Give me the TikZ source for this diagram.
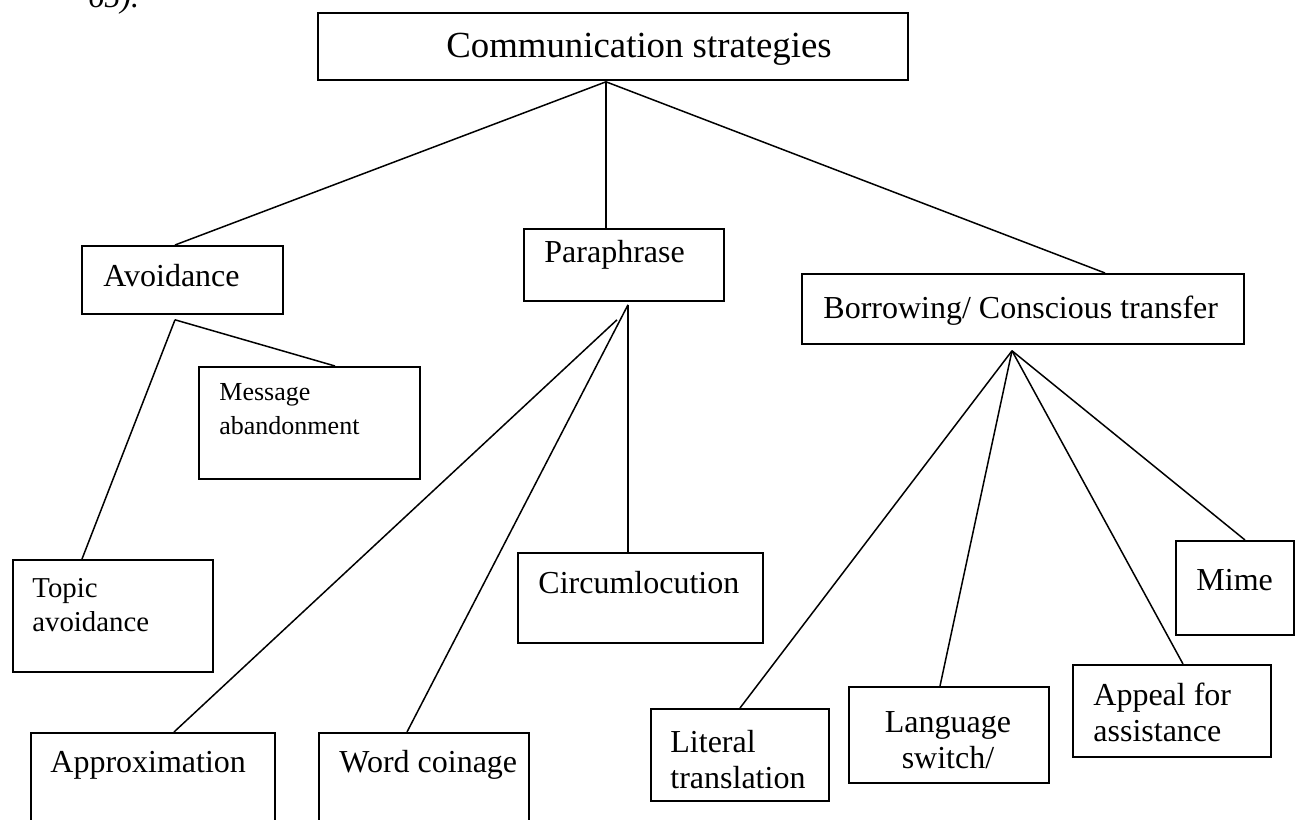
\documentclass[tikz,border=0pt]{standalone}
\usepackage{fontspec}
\setmainfont{Liberation Serif}
\usetikzlibrary{calc}
\newcommand\mkbox[5]{\node[box, minimum width=#4*0.5pt, minimum height=#5*0.5pt] (#1) at (#2,#3) {};}
\begin{document}
\begin{tikzpicture}[x=0.5pt,y=-0.5pt,
  box/.style={draw, line width=0.9pt, inner sep=0pt, anchor=north west},
  conn/.style={line width=0.75pt},
  lbl/.style={inner sep=0pt, anchor=base west, align=left},
  big/.style={font=\fontsize{18.4pt}{21pt}\selectfont},
  mid/.style={font=\fontsize{16pt}{18pt}\selectfont},
  sml/.style={font=\fontsize{14.4pt}{17pt}\selectfont},
  xsml/.style={font=\fontsize{13pt}{17pt}\selectfont},
]
\useasboundingbox (0,0) rectangle (1295,819);
\clip (0,0) rectangle (1295,819);
\fill[white] (0,0) rectangle (1295,819);

% fragment of preceding text
\node[lbl, font=\itshape\fontsize{16pt}{18pt}\selectfont] (frag) at (88,7) {65).};

% boxes
\mkbox{T}{317}{12}{590}{67}
\mkbox{A}{81}{245}{201}{68}
\mkbox{P}{523}{228}{200}{72}
\mkbox{B}{801}{273}{442}{70}
\mkbox{M}{198}{366}{221}{112}
\mkbox{TA}{12}{559}{200}{112}
\mkbox{AP}{30}{732}{244}{112}
\mkbox{W}{318}{732}{210}{112}
\mkbox{C}{517}{552}{245}{90}
\mkbox{L}{650}{708}{178}{92}
\mkbox{LS}{848}{686}{200}{96}
\mkbox{AF}{1072}{664}{198}{92}
\mkbox{MI}{1175}{540}{118}{94}

% texts (multi-line nodes: base = last line)
\node[inner sep=0pt, anchor=base, big] (Tt) at (639,57) {Communication strategies};
\node[lbl, mid] (At) at (103,286) {Avoidance};
\node[lbl, mid] (Pt) at (544,262) {Paraphrase};
\node[lbl, mid] (Bt) at (823,318) {Borrowing/ Conscious transfer};
\node[lbl, xsml] (Mt) at (219,434) {Message\\abandonment};
\node[lbl, sml] (TAt) at (32,631) {Topic\\avoidance};
\node[lbl, mid] (APt) at (50,772) {Approximation};
\node[lbl, mid] (Wt) at (339,772) {Word coinage};
\node[lbl, mid] (Ct) at (538,593) {Circumlocution};
\node[lbl, mid] (Lt) at (670,788) {Literal\\translation};
\node[inner sep=0pt, anchor=base, align=center, mid] (LSt) at (948,768) {Language\\switch/};
\node[lbl, mid] (AFt) at (1093,741) {Appeal for\\assistance};
\node[lbl, mid] (MIt) at (1196,590) {Mime};

% apex points
\coordinate (tA) at ($(T.south west)+(289,1)$);
\coordinate (aA) at ($(A.south west)+(94,5)$);
\coordinate (pA) at ($(P.south west)+(105,3)$);
\coordinate (pB) at ($(P.south west)+(94,18)$);
\coordinate (bA) at ($(B.south west)+(211,6)$);

% connectors
\draw[conn] (tA) -- ($(A.north west)+(94,0)$);
\draw[conn] (tA) -- ($(P.north west)+(83,0)$);
\draw[conn] (tA) -- ($(B.north west)+(304,0)$);
\draw[conn] (aA) -- ($(M.north west)+(137,0)$);
\draw[conn] (aA) -- ($(TA.north west)+(70,0)$);
\draw[conn] (pB) -- ($(AP.north west)+(144,0)$);
\draw[conn] (pA) -- ($(W.north west)+(89,0)$);
\draw[conn] (pA) -- ($(C.north west)+(111,0)$);
\draw[conn] (bA) -- ($(L.north west)+(90,0)$);
\draw[conn] (bA) -- ($(LS.north west)+(92,0)$);
\draw[conn] (bA) -- ($(AF.north west)+(111,0)$);
\draw[conn] (bA) -- ($(MI.north west)+(70,0)$);
\end{tikzpicture}
\end{document}
